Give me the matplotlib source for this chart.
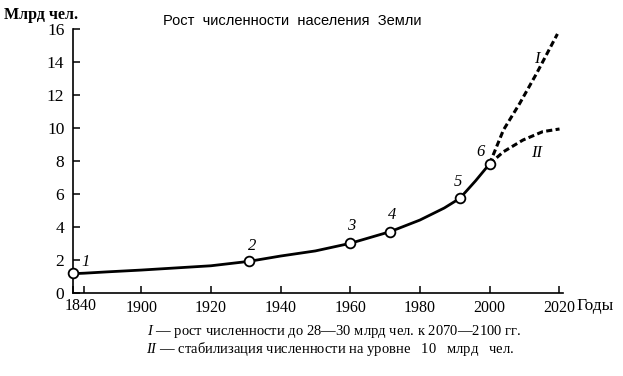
import numpy as np
import matplotlib
matplotlib.use("Agg")
import matplotlib.pyplot as plt

plt.rcParams["mathtext.fontset"] = "custom"
plt.rcParams["mathtext.it"] = "Liberation Serif:italic"
plt.rcParams["mathtext.rm"] = "Liberation Serif"

# solid curve (year, billions)
curve_years = [1840, 1850, 1870, 1900, 1920, 1931, 1940, 1950, 1960, 1971.5, 1980, 1987, 1991.5, 1996, 2000]
curve_vals = [1.17, 1.2, 1.28, 1.39, 1.65, 1.92, 2.24, 2.55, 3.01, 3.72, 4.42, 5.15, 5.74, 6.8, 7.82]

# numbered points on the curve
point_years = [1840, 1931, 1960, 1971.5, 1991.5, 2000]
point_vals = [1.19, 1.92, 3.01, 3.72, 5.74, 7.82]
point_labels = ["1", "2", "3", "4", "5", "6"]

# forecasts
fc1_years = [2000, 2004, 2008.7, 2013.5, 2019.5]
fc1_vals = [7.82, 9.88, 11.5, 13.3, 15.7]
fc2_years = [2000, 2004, 2009.6, 2015.3, 2020.1]
fc2_vals = [7.82, 8.56, 9.27, 9.78, 9.94]

xticks = [1840, 1900, 1920, 1940, 1960, 1980, 2000, 2020]
yticks = [0, 2, 4, 6, 8, 10, 12, 14, 16]

K = 0.328  # the axis is squeezed before 1900


def fwd(x):
    x = np.asarray(x, dtype=float)
    return np.where(x < 1900, 1900 + (x - 1900) * K, x)


def inv(x):
    x = np.asarray(x, dtype=float)
    return np.where(x < 1900, 1900 + (x - 1900) / K, x)


W, H = 623, 376
fig = plt.figure(figsize=(W / 100, H / 100), dpi=100)
ax = fig.add_axes([72.7 / W, 1 - 293 / H, (563 - 72.7) / W, (293 - 29) / H])
ax.set_xscale("function", functions=(fwd, inv))
ax.set_xlim(1840, 2021.1)
ax.set_ylim(0, 16)

serif = "Liberation Serif"

ax.plot(curve_years, curve_vals, color="black", lw=2, solid_capstyle="round", zorder=2)
ax.plot(fc1_years, fc1_vals, color="black", lw=2.2, dashes=(2.0, 1.1), zorder=2)
ax.plot(fc2_years, fc2_vals, color="black", lw=2.2, dashes=(2.0, 1.1), zorder=2)
ax.plot(point_years, point_vals, "o", ms=7, mfc="white", mec="black", mew=1.3,
        zorder=3, clip_on=False)

# label offsets in pixels
offs = [(13, 11), (3, 15), (1, 17), (2, 17), (-2, 16), (-9, 12)]
for x, y, s, (dx, dy) in zip(point_years, point_vals, point_labels, offs):
    ax.annotate(s, (x, y), xytext=(dx * 0.72, dy * 0.72), textcoords="offset points",
                ha="center", va="center", fontsize=12, style="italic", family=serif)

ax.text(2013.5, 14.2, "I", fontsize=12, style="italic", family=serif, ha="center", va="center")
ax.text(2013.5, 8.5, "II", fontsize=12, style="italic", family=serif, ha="center", va="center")

for s in ["top", "right"]:
    ax.spines[s].set_visible(False)
for s in ["left", "bottom"]:
    ax.spines[s].set_linewidth(1.2)

ax.set_xticks(xticks)
ax.set_xticklabels([""] + [str(t) for t in xticks[1:]])
ax.set_xticks([1850], minor=True)
ax.set_yticks(yticks)
ax.tick_params(axis="both", which="both", direction="in", length=5, width=1.1)
ax.tick_params(axis="x", labelsize=11.5, pad=5)
ax.tick_params(axis="y", labelsize=12.5, pad=6)
for lab in ax.get_xticklabels() + ax.get_yticklabels():
    lab.set_family(serif)

# the origin year sits a little right of the corner, below the "0"
ax.annotate(str(xticks[0]), (xticks[0], 0), xytext=(-6, -9.2), textcoords="offset points",
            ha="left", va="center", fontsize=11.5, family=serif, annotation_clip=False)

fig.text(41.5 / W, 1 - 15 / H, "Млрд чел.", family=serif, fontsize=11.5, weight="bold",
         ha="center", va="center")
fig.text(292 / W, 1 - 21 / H, "Рост  численности  населения  Земли", family="Liberation Sans",
         fontsize=10.5, ha="center", va="center")
fig.text(576 / W, 1 - 306.5 / H, "Годы", family=serif, fontsize=12.5, ha="left", va="center")

fig.text(147 / W, 1 - 331 / H, "$\\mathit{I}$ — рост численности до 28—30 млрд чел. к 2070—2100 гг.",
         family=serif, fontsize=10.5, ha="left", va="center")
fig.text(146 / W, 1 - 349.5 / H, "$\\mathit{II}$ — стабилизация численности на уровне   10   млрд   чел.",
         family=serif, fontsize=10.5, ha="left", va="center")

fig.savefig("out.png", dpi=100)
